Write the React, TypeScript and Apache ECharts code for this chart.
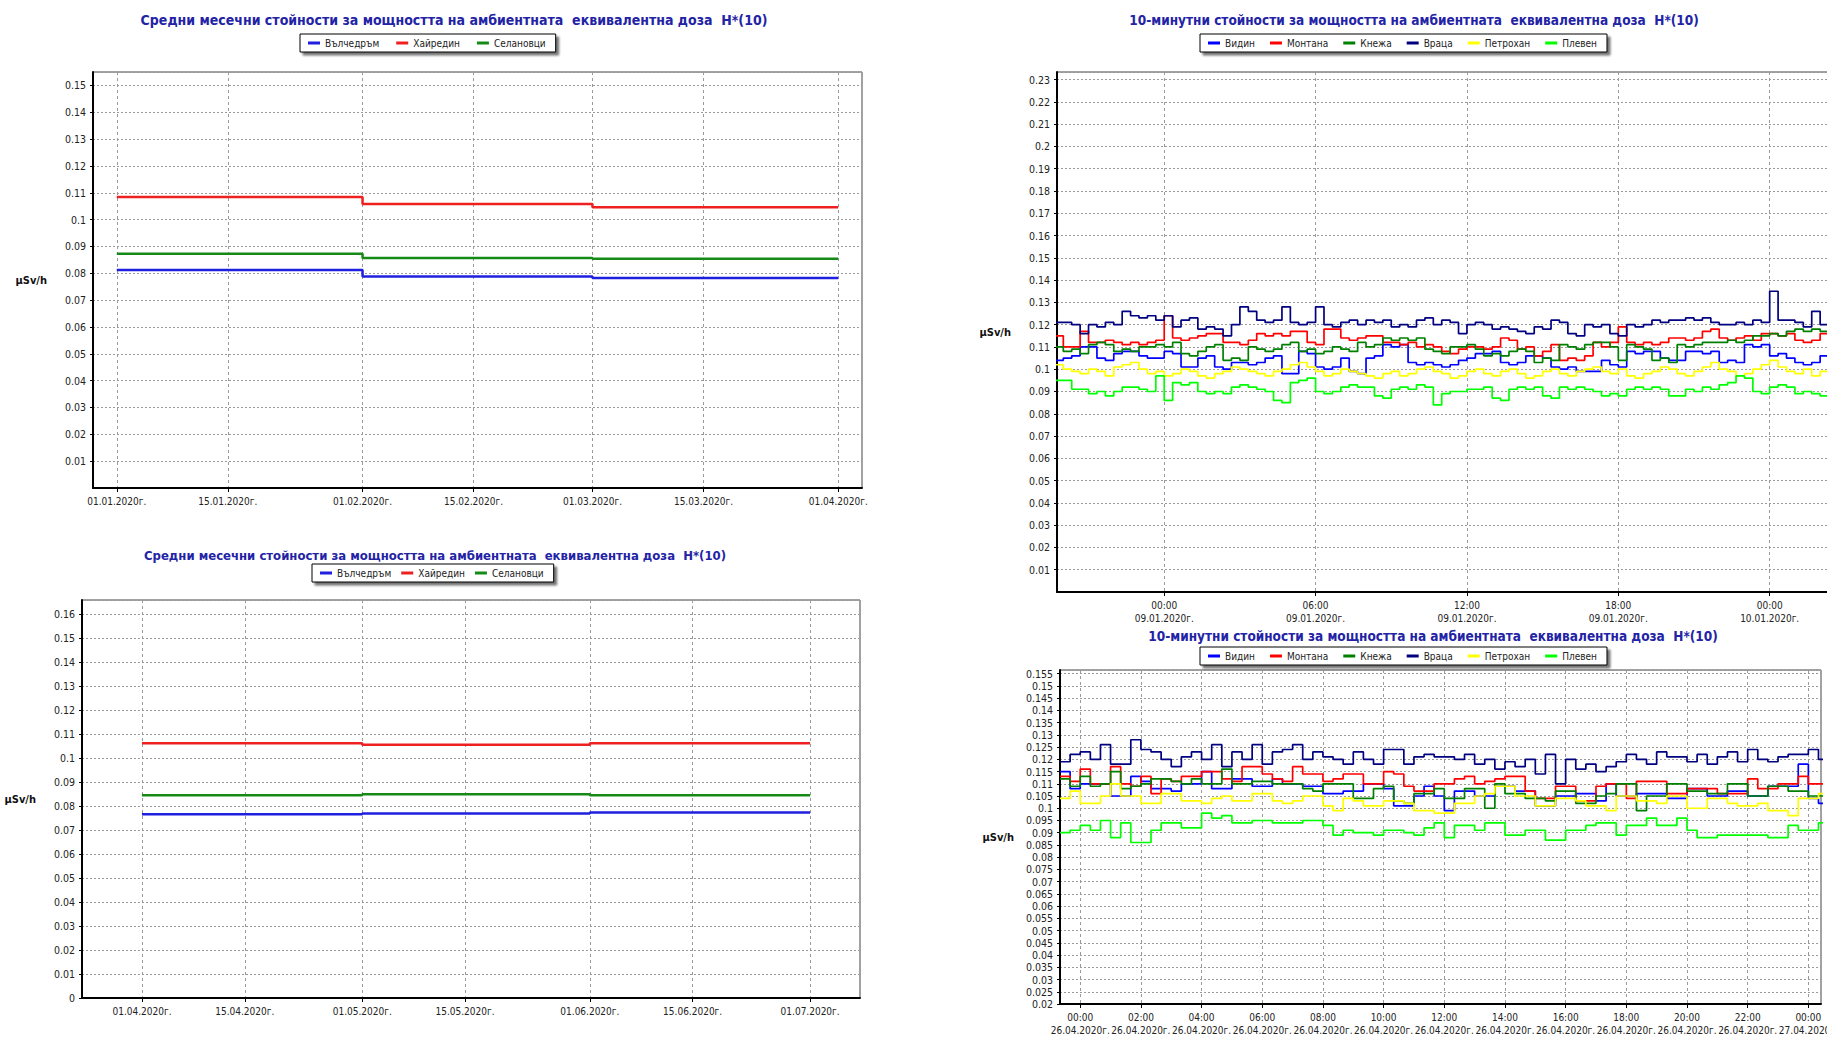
import React, { useEffect, useRef } from 'react';
import * as echarts from 'echarts';

const FONT = "'Liberation Sans Narrow', 'DejaVu Sans Condensed', 'Liberation Sans', Arial, sans-serif";

const TITLE_MONTHLY = 'Средни месечни стойности за мощността на амбиентната  еквивалентна доза  H*(10)';
const TITLE_10MIN = '10-минутни стойности за мощността на амбиентната  еквивалентна доза  H*(10)';
const UNIT = 'μSv/h';

// ---------- Monthly averages (μSv/h) ----------
const leftNames = ['Вълчедръм', 'Хайредин', 'Селановци'];
const monthsQ1 = ['2020-01-01', '2020-02-01', '2020-03-01'];
const endQ1 = '2020-04-01';
const valchedramQ1 = [0.0812, 0.0788, 0.0782];
const hayredinQ1 = [0.1084, 0.1058, 0.1046];
const selanovtsiQ1 = [0.0873, 0.0857, 0.0854];
const ticksQ1 = ['2020-01-01', '2020-01-15', '2020-02-01', '2020-02-15', '2020-03-01', '2020-03-15', '2020-04-01'];

const monthsQ2 = ['2020-04-01', '2020-05-01', '2020-06-01'];
const endQ2 = '2020-07-01';
const valchedramQ2 = [0.0766, 0.077, 0.0774];
const hayredinQ2 = [0.1063, 0.1056, 0.1063];
const selanovtsiQ2 = [0.0846, 0.085, 0.0846];
const ticksQ2 = ['2020-04-01', '2020-04-15', '2020-05-01', '2020-05-15', '2020-06-01', '2020-06-15', '2020-07-01'];

// ---------- 10-minute values, read every 20 min (in 0.001 μSv/h) ----------
const rightNames = ['Видин', 'Монтана', 'Кнежа', 'Враца', 'Петрохан', 'Плевен'];
const SAMPLE_MIN = 20;

const janStart = '2020-01-08T19:20';
const janTicks = ['2020-01-09T00:00', '2020-01-09T06:00', '2020-01-09T12:00', '2020-01-09T18:00', '2020-01-10T00:00', '2020-01-10T06:00'];
const janVidin = [108,104,105,106,110,110,105,104,107,108,108,106,105,105,108,107,101,101,105,106,101,100,103,103,102,103,105,106,98,98,108,107,101,100,101,105,99,98,105,106,111,110,111,103,102,103,102,101,102,104,105,107,107,108,103,102,103,106,106,105,101,100,101,99,99,99,104,102,101,108,107,108,108,105,104,104,108,108,107,108,103,104,103,111,110,111,106,107,105,103,102,103,106,106,105,110,110,109];
const janMontana = [116,115,110,110,117,112,112,113,112,111,112,111,112,113,124,114,113,114,115,116,116,112,112,111,113,116,115,116,115,117,117,112,111,118,118,114,113,114,115,115,112,112,111,112,110,111,110,108,107,109,110,110,109,110,114,113,109,110,106,108,111,104,105,104,106,112,110,112,119,112,111,112,111,112,114,114,113,114,117,118,114,113,114,115,113,116,116,115,116,113,112,113,116,115,116,114,115,114];
const janKneja = [103,110,108,109,107,111,112,111,108,109,108,110,110,111,110,112,107,106,108,110,111,104,105,104,110,109,108,109,111,112,108,109,107,108,110,109,108,112,110,111,114,113,114,113,114,109,108,107,110,110,111,109,106,107,106,108,109,108,103,105,104,111,110,109,111,112,112,110,104,111,110,109,104,105,103,111,110,111,112,112,112,113,112,113,115,115,116,115,117,118,117,118,117,116,117,112,113,112];
const janVratsa = [116,121,121,120,116,120,119,121,120,126,124,123,124,122,124,119,122,123,118,119,118,115,120,128,126,122,121,122,128,121,120,121,128,120,119,121,122,120,122,121,122,119,120,119,122,123,120,122,121,116,120,121,120,118,119,118,117,116,119,118,122,121,116,115,120,119,120,116,115,120,119,120,122,121,122,122,123,122,123,121,120,120,121,120,122,121,135,122,122,121,119,126,120,119,124,124,123,122];
const janPetrohan = [101,102,100,99,98,100,99,97,101,102,103,100,98,99,97,98,100,99,97,96,98,99,101,100,99,98,97,99,100,102,103,101,99,97,98,100,99,98,97,96,98,99,97,98,100,101,99,98,96,97,99,100,98,97,99,100,98,96,97,99,100,98,97,99,100,101,99,98,100,97,96,98,99,101,100,98,97,99,101,103,100,99,97,98,100,102,104,101,99,98,100,97,99,101,96,98,100,99];
const janPleven = [92,95,95,91,91,89,90,88,90,92,92,91,90,97,86,94,93,94,90,89,90,89,92,93,92,91,90,86,85,94,95,96,90,89,90,92,93,92,92,88,87,91,92,91,93,92,84,89,90,90,91,91,92,87,86,91,92,91,92,88,87,92,91,92,91,90,88,89,88,91,92,91,92,91,88,88,91,90,92,91,93,94,97,96,90,89,92,93,92,89,90,89,88,87,87,91,91,90];

const aprStart = '2020-04-25T23:20';
const aprTicks = ['2020-04-26T00:00', '2020-04-26T02:00', '2020-04-26T04:00', '2020-04-26T06:00', '2020-04-26T08:00', '2020-04-26T10:00', '2020-04-26T12:00', '2020-04-26T14:00', '2020-04-26T16:00', '2020-04-26T18:00', '2020-04-26T20:00', '2020-04-26T22:00', '2020-04-27T00:00'];
const aprVidin = [115,108,110,110,110,105,105,113,111,108,108,107,110,110,115,108,108,112,112,109,109,112,110,110,109,109,106,106,107,107,110,110,108,101,101,105,109,105,99,107,107,105,105,109,109,107,107,101,101,105,105,106,106,103,110,105,105,106,106,106,104,104,108,108,105,105,107,107,105,105,109,109,109,118,104,102,102];
const aprMontana = [113,111,116,110,110,117,110,109,113,106,112,111,113,113,115,115,112,111,117,117,114,112,111,117,114,114,111,112,114,114,110,110,115,114,109,107,107,110,110,112,113,110,111,112,113,113,107,104,104,109,109,103,103,109,110,110,104,111,111,111,106,106,108,108,108,106,106,106,112,108,108,110,110,113,110,110,109];
const aprKneja = [112,109,113,109,110,115,108,109,110,112,112,111,110,112,110,110,116,110,110,111,111,110,110,110,108,107,110,110,110,104,104,108,109,103,102,106,106,108,104,104,108,108,100,110,106,106,104,104,103,107,107,102,102,105,106,110,110,99,105,105,110,110,107,107,106,106,110,110,105,105,109,109,107,107,105,105,105];
const aprVratsa = [119,122,123,120,126,118,118,128,124,123,120,117,121,123,120,126,117,123,120,126,118,123,124,126,120,123,121,120,118,123,120,118,124,124,118,121,122,121,121,120,122,118,120,116,119,117,120,114,122,110,120,116,118,115,117,119,122,120,118,123,121,121,119,122,118,121,123,119,124,120,119,121,122,122,124,120,116];
const aprPetrohan = [104,107,102,102,105,110,105,105,102,102,106,106,103,103,102,104,105,103,103,106,106,103,102,103,105,105,101,99,104,103,101,101,103,103,102,99,99,98,98,102,102,105,106,109,109,105,105,101,101,104,104,103,101,101,99,105,105,103,103,102,105,105,100,100,104,104,102,101,101,102,99,99,97,104,104,106,106];
const aprPleven = [90,91,93,91,95,88,94,86,86,91,94,94,92,92,98,96,97,94,94,95,95,94,94,94,95,95,93,89,91,90,90,89,91,91,90,89,92,94,88,93,93,91,94,94,89,89,91,91,87,87,91,91,93,94,94,89,93,93,96,93,93,96,91,88,88,89,89,89,89,89,88,88,93,91,91,94,94];

const leftColors = ['#1f1fe0', '#ee2020', '#168a16'];
const rightColors = ['#0000ff', '#ff0000', '#008000', '#000080', '#ffff00', '#00ff00'];

// ---------- helpers ----------
const ts = (s: string) => Date.parse(s.length === 10 ? s + 'T00:00:00Z' : s + ':00Z');
const p2 = (n: number) => (n < 10 ? '0' : '') + n;
const fmtDate = (v: number) => {
  const d = new Date(v);
  return `${p2(d.getUTCDate())}.${p2(d.getUTCMonth() + 1)}.${d.getUTCFullYear()}г.`;
};
const fmtDateTime = (v: number) => {
  const d = new Date(v);
  return `${p2(d.getUTCHours())}:${p2(d.getUTCMinutes())}\n${fmtDate(v)}`;
};
const fmtY = (v: number) => String(parseFloat(v.toFixed(4)));

const monthlyData = (months: string[], end: string, vals: number[]) =>
  [...months.map((m, i) => [ts(m), vals[i]]), [ts(end), vals[vals.length - 1]]];
const sampledData = (start: string, vals: number[]) =>
  vals.map((v, i) => [ts(start) + i * SAMPLE_MIN * 60000, v / 1000]);

const gridStyle = { show: true, borderColor: '#444', borderWidth: 1, backgroundColor: '#fff', outerBoundsMode: 'none', containLabel: false };

const xAxisOpt = (gridIndex: number, min: number, max: number, ticks: string[], fmt: (v: number) => string) => ({
  type: 'value',
  gridIndex,
  min,
  max,
  axisLine: { show: true, onZero: false, lineStyle: { color: '#000', width: 2 } },
  axisTick: { show: true, customValues: ticks.map(ts), length: 4, lineStyle: { color: '#000' } },
  axisLabel: {
    customValues: ticks.map(ts),
    formatter: fmt,
    fontFamily: FONT,
    fontSize: 10,
    color: '#222',
    margin: 7,
    lineHeight: 13,
    hideOverlap: false,
  },
  splitLine: { show: true, lineStyle: { type: [3, 3], color: '#9a9a9a', width: 1 } },
});

const yAxisOpt = (gridIndex: number, min: number, max: number, interval: number, showMin: boolean) => ({
  type: 'value',
  gridIndex,
  min,
  max,
  interval,
  name: UNIT,
  nameLocation: 'middle',
  nameRotate: 0,
  nameGap: 46,
  nameTextStyle: { fontFamily: FONT, fontWeight: 'bold', fontSize: 11, color: '#111' },
  axisLine: { show: true, lineStyle: { color: '#000', width: 2 } },
  axisTick: { show: true, length: 3, lineStyle: { color: '#000' } },
  axisLabel: { fontFamily: FONT, fontSize: 10.5, color: '#222', margin: 7, showMinLabel: showMin, showMaxLabel: false, formatter: fmtY },
  splitLine: { show: true, lineStyle: { type: [2, 2], color: '#9a9a9a', width: 1 } },
});

const legendOpt = (left: number, top: number, names: string[], gap: number) => ({
  left,
  top,
  orient: 'horizontal',
  data: names,
  icon: 'rect',
  itemWidth: 12,
  itemHeight: 3,
  itemGap: gap,
  padding: [4, 10, 4, 8],
  backgroundColor: '#fff',
  borderColor: '#000',
  borderWidth: 1,
  shadowColor: 'rgba(0,0,0,0.55)',
  shadowBlur: 2,
  shadowOffsetX: 3,
  shadowOffsetY: 3,
  selectedMode: false,
  textStyle: { fontFamily: FONT, fontSize: 10, color: '#222' },
});

const titleOpt = (text: string, center: number, top: number, size: number) => ({
  text,
  left: center,
  top,
  textAlign: 'center',
  padding: 0,
  textStyle: { fontFamily: FONT, fontWeight: 'bold', fontSize: size, color: '#2323a6' },
});

function buildOption() {
  const leftQ1 = [valchedramQ1, hayredinQ1, selanovtsiQ1];
  const leftQ2 = [valchedramQ2, hayredinQ2, selanovtsiQ2];
  const janAll = [janVidin, janMontana, janKneja, janVratsa, janPetrohan, janPleven];
  const aprAll = [aprVidin, aprMontana, aprKneja, aprVratsa, aprPetrohan, aprPleven];

  const series: any[] = [];
  leftNames.forEach((name, i) => {
    series.push({
      type: 'line', name, xAxisIndex: 0, yAxisIndex: 0, step: 'end', symbol: 'none',
      data: monthlyData(monthsQ1, endQ1, leftQ1[i]),
      lineStyle: { color: leftColors[i], width: 2.5 }, itemStyle: { color: leftColors[i] },
    });
    series.push({
      type: 'line', name, xAxisIndex: 1, yAxisIndex: 1, step: 'end', symbol: 'none',
      data: monthlyData(monthsQ2, endQ2, leftQ2[i]),
      lineStyle: { color: leftColors[i], width: 2.5 }, itemStyle: { color: leftColors[i] },
    });
  });
  rightNames.forEach((name, i) => {
    series.push({
      type: 'line', name, xAxisIndex: 2, yAxisIndex: 2, step: 'end', symbol: 'none',
      data: sampledData(janStart, janAll[i]),
      lineStyle: { color: rightColors[i], width: 1.7 }, itemStyle: { color: rightColors[i] },
    });
    series.push({
      type: 'line', name, xAxisIndex: 3, yAxisIndex: 3, step: 'end', symbol: 'none',
      data: sampledData(aprStart, aprAll[i]),
      lineStyle: { color: rightColors[i], width: 1.7 }, itemStyle: { color: rightColors[i] },
    });
  });

  return {
    animation: false,
    backgroundColor: '#fff',
    textStyle: { fontFamily: FONT },
    title: [
      titleOpt(TITLE_MONTHLY, 454, 13, 14),
      titleOpt(TITLE_MONTHLY, 435, 549, 13),
      titleOpt(TITLE_10MIN, 1414, 13, 13.5),
      titleOpt(TITLE_10MIN, 1433, 629, 13.5),
    ],
    legend: [
      legendOpt(300, 34, leftNames, 17),
      legendOpt(312, 564, leftNames, 10),
      legendOpt(1200, 34, rightNames, 15),
      legendOpt(1200, 647, rightNames, 15),
    ],
    grid: [
      { left: 93, top: 72, width: 769, height: 416, ...gridStyle },
      { left: 82, top: 600, width: 778, height: 398, ...gridStyle },
      { left: 1057, top: 72, width: 822, height: 520, ...gridStyle },
      { left: 1060, top: 670, width: 761, height: 334, ...gridStyle },
    ],
    xAxis: [
      xAxisOpt(0, ts('2019-12-29T00:00'), ts('2020-04-04T00:00'), ticksQ1, fmtDate),
      xAxisOpt(1, ts('2020-03-23T20:00'), ts('2020-07-07T19:00'), ticksQ2, fmtDate),
      xAxisOpt(2, ts('2020-01-08T19:45'), ts('2020-01-10T04:20'), janTicks, fmtDateTime),
      xAxisOpt(3, ts('2020-04-25T23:20'), ts('2020-04-27T00:25'), aprTicks, fmtDateTime),
    ],
    yAxis: [
      yAxisOpt(0, 0, 0.155, 0.01, false),
      yAxisOpt(1, 0, 0.166, 0.01, true),
      yAxisOpt(2, 0, 0.2334, 0.01, false),
      yAxisOpt(3, 0.02, 0.1565, 0.005, true),
    ],
    series,
  };
}

export default function App() {
  const ref = useRef<HTMLDivElement>(null);
  useEffect(() => {
    if (!ref.current) return;
    const chart = echarts.init(ref.current, undefined, { renderer: 'svg' });
    chart.setOption(buildOption() as any);
    return () => chart.dispose();
  }, []);
  return (
    <div
      ref={ref}
      style={{ position: 'absolute', left: 0, top: 0, width: 1827, height: 1038, background: '#fff', overflow: 'hidden' }}
    />
  );
}
